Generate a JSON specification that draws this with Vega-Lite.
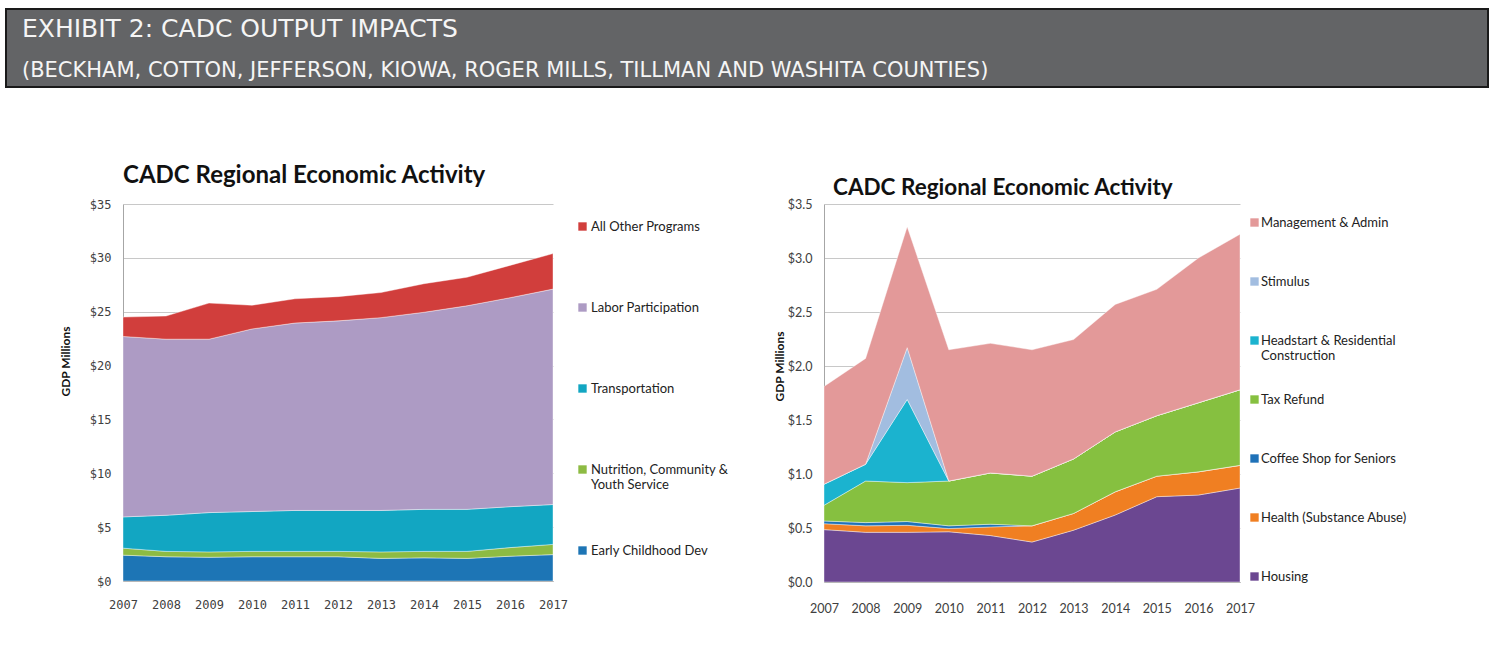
{
  "$schema": "https://vega.github.io/schema/vega-lite/v6.json",
  "padding": {"left": 5, "top": 8, "right": 0, "bottom": 0},
  "background": "white",
  "config": {
    "view": {"stroke": null},
    "font": "Lato",
    "axis": {"ticks": false, "domainColor": "#a6a6a6", "labelColor": "#404040", "gridColor": "#c8c8c8"},
    "legend": {"symbolStrokeWidth": 0, "padding": 0}
  },
  "datasets": {
    "left": [
      {"program": "Early Childhood Dev", "year": 2007, "value": 2.4},
      {"program": "Early Childhood Dev", "year": 2008, "value": 2.25},
      {"program": "Early Childhood Dev", "year": 2009, "value": 2.2},
      {"program": "Early Childhood Dev", "year": 2010, "value": 2.25},
      {"program": "Early Childhood Dev", "year": 2011, "value": 2.25},
      {"program": "Early Childhood Dev", "year": 2012, "value": 2.25},
      {"program": "Early Childhood Dev", "year": 2013, "value": 2.1},
      {"program": "Early Childhood Dev", "year": 2014, "value": 2.15},
      {"program": "Early Childhood Dev", "year": 2015, "value": 2.1},
      {"program": "Early Childhood Dev", "year": 2016, "value": 2.3},
      {"program": "Early Childhood Dev", "year": 2017, "value": 2.45},
      {"program": "Nutrition, Community & Youth Service", "year": 2007, "value": 0.65},
      {"program": "Nutrition, Community & Youth Service", "year": 2008, "value": 0.5},
      {"program": "Nutrition, Community & Youth Service", "year": 2009, "value": 0.5},
      {"program": "Nutrition, Community & Youth Service", "year": 2010, "value": 0.5},
      {"program": "Nutrition, Community & Youth Service", "year": 2011, "value": 0.5},
      {"program": "Nutrition, Community & Youth Service", "year": 2012, "value": 0.5},
      {"program": "Nutrition, Community & Youth Service", "year": 2013, "value": 0.6},
      {"program": "Nutrition, Community & Youth Service", "year": 2014, "value": 0.6},
      {"program": "Nutrition, Community & Youth Service", "year": 2015, "value": 0.65},
      {"program": "Nutrition, Community & Youth Service", "year": 2016, "value": 0.8},
      {"program": "Nutrition, Community & Youth Service", "year": 2017, "value": 0.95},
      {"program": "Transportation", "year": 2007, "value": 2.9},
      {"program": "Transportation", "year": 2008, "value": 3.35},
      {"program": "Transportation", "year": 2009, "value": 3.65},
      {"program": "Transportation", "year": 2010, "value": 3.7},
      {"program": "Transportation", "year": 2011, "value": 3.8},
      {"program": "Transportation", "year": 2012, "value": 3.8},
      {"program": "Transportation", "year": 2013, "value": 3.85},
      {"program": "Transportation", "year": 2014, "value": 3.9},
      {"program": "Transportation", "year": 2015, "value": 3.9},
      {"program": "Transportation", "year": 2016, "value": 3.8},
      {"program": "Transportation", "year": 2017, "value": 3.7},
      {"program": "Labor Participation", "year": 2007, "value": 16.75},
      {"program": "Labor Participation", "year": 2008, "value": 16.35},
      {"program": "Labor Participation", "year": 2009, "value": 16.1},
      {"program": "Labor Participation", "year": 2010, "value": 16.95},
      {"program": "Labor Participation", "year": 2011, "value": 17.4},
      {"program": "Labor Participation", "year": 2012, "value": 17.6},
      {"program": "Labor Participation", "year": 2013, "value": 17.9},
      {"program": "Labor Participation", "year": 2014, "value": 18.3},
      {"program": "Labor Participation", "year": 2015, "value": 18.9},
      {"program": "Labor Participation", "year": 2016, "value": 19.4},
      {"program": "Labor Participation", "year": 2017, "value": 20.0},
      {"program": "All Other Programs", "year": 2007, "value": 1.8},
      {"program": "All Other Programs", "year": 2008, "value": 2.15},
      {"program": "All Other Programs", "year": 2009, "value": 3.35},
      {"program": "All Other Programs", "year": 2010, "value": 2.2},
      {"program": "All Other Programs", "year": 2011, "value": 2.25},
      {"program": "All Other Programs", "year": 2012, "value": 2.25},
      {"program": "All Other Programs", "year": 2013, "value": 2.33},
      {"program": "All Other Programs", "year": 2014, "value": 2.65},
      {"program": "All Other Programs", "year": 2015, "value": 2.65},
      {"program": "All Other Programs", "year": 2016, "value": 3.0},
      {"program": "All Other Programs", "year": 2017, "value": 3.3}
    ],
    "right": [
      {"category": "Housing", "year": 2007, "value": 0.485},
      {"category": "Housing", "year": 2008, "value": 0.46},
      {"category": "Housing", "year": 2009, "value": 0.46},
      {"category": "Housing", "year": 2010, "value": 0.465},
      {"category": "Housing", "year": 2011, "value": 0.43},
      {"category": "Housing", "year": 2012, "value": 0.37},
      {"category": "Housing", "year": 2013, "value": 0.48},
      {"category": "Housing", "year": 2014, "value": 0.62},
      {"category": "Housing", "year": 2015, "value": 0.79},
      {"category": "Housing", "year": 2016, "value": 0.805},
      {"category": "Housing", "year": 2017, "value": 0.87},
      {"category": "Health (Substance Abuse)", "year": 2007, "value": 0.055},
      {"category": "Health (Substance Abuse)", "year": 2008, "value": 0.06},
      {"category": "Health (Substance Abuse)", "year": 2009, "value": 0.065},
      {"category": "Health (Substance Abuse)", "year": 2010, "value": 0.03},
      {"category": "Health (Substance Abuse)", "year": 2011, "value": 0.08},
      {"category": "Health (Substance Abuse)", "year": 2012, "value": 0.15},
      {"category": "Health (Substance Abuse)", "year": 2013, "value": 0.155},
      {"category": "Health (Substance Abuse)", "year": 2014, "value": 0.215},
      {"category": "Health (Substance Abuse)", "year": 2015, "value": 0.19},
      {"category": "Health (Substance Abuse)", "year": 2016, "value": 0.215},
      {"category": "Health (Substance Abuse)", "year": 2017, "value": 0.21},
      {"category": "Coffee Shop for Seniors", "year": 2007, "value": 0.025},
      {"category": "Coffee Shop for Seniors", "year": 2008, "value": 0.03},
      {"category": "Coffee Shop for Seniors", "year": 2009, "value": 0.035},
      {"category": "Coffee Shop for Seniors", "year": 2010, "value": 0.025},
      {"category": "Coffee Shop for Seniors", "year": 2011, "value": 0.025},
      {"category": "Coffee Shop for Seniors", "year": 2012, "value": 0},
      {"category": "Coffee Shop for Seniors", "year": 2013, "value": 0},
      {"category": "Coffee Shop for Seniors", "year": 2014, "value": 0},
      {"category": "Coffee Shop for Seniors", "year": 2015, "value": 0},
      {"category": "Coffee Shop for Seniors", "year": 2016, "value": 0},
      {"category": "Coffee Shop for Seniors", "year": 2017, "value": 0},
      {"category": "Tax Refund", "year": 2007, "value": 0.145},
      {"category": "Tax Refund", "year": 2008, "value": 0.385},
      {"category": "Tax Refund", "year": 2009, "value": 0.36},
      {"category": "Tax Refund", "year": 2010, "value": 0.415},
      {"category": "Tax Refund", "year": 2011, "value": 0.475},
      {"category": "Tax Refund", "year": 2012, "value": 0.46},
      {"category": "Tax Refund", "year": 2013, "value": 0.505},
      {"category": "Tax Refund", "year": 2014, "value": 0.555},
      {"category": "Tax Refund", "year": 2015, "value": 0.56},
      {"category": "Tax Refund", "year": 2016, "value": 0.64},
      {"category": "Tax Refund", "year": 2017, "value": 0.7},
      {"category": "Headstart & Residential Construction", "year": 2007, "value": 0.195},
      {"category": "Headstart & Residential Construction", "year": 2008, "value": 0.155},
      {"category": "Headstart & Residential Construction", "year": 2009, "value": 0.77},
      {"category": "Headstart & Residential Construction", "year": 2010, "value": 0},
      {"category": "Headstart & Residential Construction", "year": 2011, "value": 0},
      {"category": "Headstart & Residential Construction", "year": 2012, "value": 0},
      {"category": "Headstart & Residential Construction", "year": 2013, "value": 0},
      {"category": "Headstart & Residential Construction", "year": 2014, "value": 0},
      {"category": "Headstart & Residential Construction", "year": 2015, "value": 0},
      {"category": "Headstart & Residential Construction", "year": 2016, "value": 0},
      {"category": "Headstart & Residential Construction", "year": 2017, "value": 0},
      {"category": "Stimulus", "year": 2007, "value": 0},
      {"category": "Stimulus", "year": 2008, "value": 0},
      {"category": "Stimulus", "year": 2009, "value": 0.48},
      {"category": "Stimulus", "year": 2010, "value": 0},
      {"category": "Stimulus", "year": 2011, "value": 0},
      {"category": "Stimulus", "year": 2012, "value": 0},
      {"category": "Stimulus", "year": 2013, "value": 0},
      {"category": "Stimulus", "year": 2014, "value": 0},
      {"category": "Stimulus", "year": 2015, "value": 0},
      {"category": "Stimulus", "year": 2016, "value": 0},
      {"category": "Stimulus", "year": 2017, "value": 0},
      {"category": "Management & Admin", "year": 2007, "value": 0.905},
      {"category": "Management & Admin", "year": 2008, "value": 0.98},
      {"category": "Management & Admin", "year": 2009, "value": 1.12},
      {"category": "Management & Admin", "year": 2010, "value": 1.215},
      {"category": "Management & Admin", "year": 2011, "value": 1.2},
      {"category": "Management & Admin", "year": 2012, "value": 1.17},
      {"category": "Management & Admin", "year": 2013, "value": 1.105},
      {"category": "Management & Admin", "year": 2014, "value": 1.18},
      {"category": "Management & Admin", "year": 2015, "value": 1.17},
      {"category": "Management & Admin", "year": 2016, "value": 1.34},
      {"category": "Management & Admin", "year": 2017, "value": 1.44}
    ]
  },
  "spacing": 76,
  "vconcat": [
    {
      "width": 1482,
      "height": 78,
      "view": {"fill": "#636466", "stroke": "#1a1a1a", "strokeWidth": 2},
      "data": {"values": []},
      "mark": "text",
      "title": {
        "text": "EXHIBIT 2: CADC OUTPUT IMPACTS",
        "subtitle": "(BECKHAM, COTTON, JEFFERSON, KIOWA, ROGER MILLS, TILLMAN AND WASHITA COUNTIES)",
        "anchor": "start",
        "frame": "group",
        "orient": "top",
        "baseline": "top",
        "offset": -72,
        "dx": 16,
        "font": "DejaVu Sans",
        "fontSize": 25,
        "fontWeight": "normal",
        "color": "#f5f5f5",
        "subtitleFont": "DejaVu Sans",
        "subtitleFontSize": 21,
        "subtitleColor": "#f5f5f5",
        "subtitlePadding": 18
      }
    },
    {
      "bounds": "flush",
      "spacing": 0,
      "hconcat": [
        {
          "width": 117,
          "height": 10,
          "data": {"values": []},
          "mark": "text"
        },
        {
          "hconcat": [
            {
              "width": 430,
              "height": 377,
              "data": {"name": "left"},
              "transform": [
                {"calculate": "indexof(['Early Childhood Dev','Nutrition, Community & Youth Service','Transportation','Labor Participation','All Other Programs'], datum.program)", "as": "k"}
              ],
              "title": {
                "text": "CADC Regional Economic Activity",
                "anchor": "start",
                "frame": "group",
                "orient": "top",
                "baseline": "alphabetic",
                "offset": -9,
                "font": "Lato",
                "fontSize": 24,
                "fontWeight": "bold",
                "color": "#111111"
              },
              "mark": {"type": "area", "interpolate": "linear", "stroke": "white", "strokeWidth": 0.8, "strokeOpacity": 0.5},
              "encoding": {
                "x": {
                  "field": "year", "type": "quantitative",
                  "scale": {"domain": [2007, 2017], "nice": false},
                  "axis": {
                    "values": [2007, 2008, 2009, 2010, 2011, 2012, 2013, 2014, 2015, 2016, 2017],
                    "format": "d", "title": null, "grid": false, "labelFlush": false, "labelOverlap": false,
                    "labelFont": "DejaVu Sans Mono", "labelFontSize": 12, "labelPadding": 18
                  }
                },
                "y": {
                  "field": "value", "type": "quantitative", "stack": "zero",
                  "scale": {"domain": [0, 35], "nice": false},
                  "axis": {
                    "values": [0, 5, 10, 15, 20, 25, 30, 35],
                    "labelExpr": "'$' + datum.value",
                    "title": "GDP Millions", "titleX": -51, "titleY": 157,
                    "titleFont": "Lato", "titleFontSize": 12, "titleFontWeight": "bold", "titleColor": "#111111",
                    "labelFont": "DejaVu Sans Mono", "labelFontSize": 12, "labelPadding": 12
                  }
                },
                "color": {
                  "field": "program", "type": "nominal",
                  "scale": {
                    "domain": ["All Other Programs", "Labor Participation", "Transportation", "Nutrition, Community & Youth Service", "Early Childhood Dev"],
                    "range": ["#d13e3c", "#ad9bc4", "#12a6c2", "#8dbb43", "#1d75b5"]
                  },
                  "legend": {
                    "orient": "none", "legendX": 453, "legendY": 16, "title": null,
                    "symbolType": "square", "symbolSize": 70,
                    "labelFont": "Lato", "labelFontSize": 13, "labelColor": "#222222", "labelOffset": 2,
                    "gridAlign": "all", "rowPadding": 52,
                    "labelExpr": "datum.label == 'Nutrition, Community & Youth Service' ? ['Nutrition, Community &', 'Youth Service'] : datum.label"
                  }
                },
                "order": {"field": "k", "type": "quantitative"}
              }
            },
            {
              "width": 416,
              "height": 378,
              "data": {"name": "right"},
              "transform": [
                {"calculate": "indexof(['Housing','Health (Substance Abuse)','Coffee Shop for Seniors','Tax Refund','Headstart & Residential Construction','Stimulus','Management & Admin'], datum.category)", "as": "k"}
              ],
              "title": {
                "text": "CADC Regional Economic Activity",
                "anchor": "start",
                "frame": "group",
                "orient": "top",
                "baseline": "alphabetic",
                "offset": -19,
                "dx": 9,
                "font": "Lato",
                "fontSize": 22.5,
                "fontWeight": "bold",
                "color": "#111111"
              },
              "mark": {"type": "area", "interpolate": "linear", "stroke": "white", "strokeWidth": 0.8, "strokeOpacity": 0.5},
              "encoding": {
                "x": {
                  "field": "year", "type": "quantitative",
                  "scale": {"domain": [2007, 2017], "nice": false},
                  "axis": {
                    "values": [2007, 2008, 2009, 2010, 2011, 2012, 2013, 2014, 2015, 2016, 2017],
                    "format": "d", "title": null, "grid": false, "labelFlush": false, "labelOverlap": false,
                    "labelFont": "Lato", "labelFontSize": 12.5, "labelPadding": 20
                  }
                },
                "y": {
                  "field": "value", "type": "quantitative", "stack": "zero",
                  "scale": {"domain": [0, 3.5], "nice": false},
                  "axis": {
                    "values": [0, 0.5, 1, 1.5, 2, 2.5, 3, 3.5],
                    "labelExpr": "'$' + format(datum.value, '.1f')",
                    "title": "GDP Millions", "titleX": -38, "titleY": 162,
                    "titleFont": "Lato", "titleFontSize": 12, "titleFontWeight": "bold", "titleColor": "#111111",
                    "labelFont": "Lato", "labelFontSize": 12.5, "labelPadding": 12
                  }
                },
                "color": {
                  "field": "category", "type": "nominal",
                  "scale": {
                    "domain": ["Management & Admin", "Stimulus", "Headstart & Residential Construction", "Tax Refund", "Coffee Shop for Seniors", "Health (Substance Abuse)", "Housing"],
                    "range": ["#e39999", "#a2bde0", "#1bb3cf", "#86c040", "#1f72b8", "#f07f22", "#6b4791"]
                  },
                  "legend": {
                    "orient": "none", "legendX": 424, "legendY": 12, "title": null,
                    "symbolType": "square", "symbolSize": 70,
                    "labelFont": "Lato", "labelFontSize": 13, "labelColor": "#222222", "labelOffset": 0,
                    "gridAlign": "all", "rowPadding": 30,
                    "labelExpr": "datum.label == 'Headstart & Residential Construction' ? ['Headstart & Residential', 'Construction'] : datum.label"
                  }
                },
                "order": {"field": "k", "type": "quantitative"}
              }
            }
          ],
          "spacing": 271,
          "bounds": "flush",
          "resolve": {"scale": {"color": "independent"}, "legend": {"color": "independent"}}
        }
      ]
    }
  ]
}
